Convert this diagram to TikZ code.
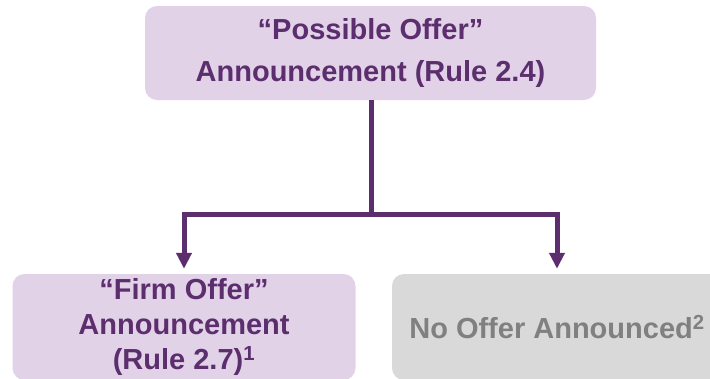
\documentclass[tikz,border=0pt]{standalone}
\usepackage{fontspec}
\setmainfont{Liberation Sans}
\usepackage{xcolor}
\usepackage{tikz}
\usetikzlibrary{arrows.meta,positioning}
\definecolor{plum}{HTML}{5C2E6E}
\definecolor{lilac}{HTML}{E1D2E8}
\definecolor{ash}{HTML}{D9D9D9}
\definecolor{slate}{HTML}{808080}
\tikzset{
  box/.style={rounded corners=12pt, inner sep=0pt, align=center, font=\bfseries\fontsize{29}{35}\selectfont},
  offer/.style={box, fill=lilac, text=plum},
  nooffer/.style={box, fill=ash, text=slate},
  link/.style={draw=plum, line width=5pt},
  arr/.style={link, -{Triangle[width=15pt,length=16pt]}, shorten >=5pt},
}
\begin{document}
\begin{tikzpicture}[x=1pt,y=-1pt]
\path[use as bounding box, clip] (0,0) rectangle (710,378);
\node[offer, minimum width=451pt, minimum height=94pt, font=\bfseries\fontsize{29}{42}\selectfont] (possible) at (370.5,53) {``Possible Offer''\\Announcement (Rule 2.4)};
\node[offer, minimum width=343pt, minimum height=106pt] (firm) at (184,327) {``Firm Offer''\\Announcement\\(Rule 2.7)\textsuperscript{1}};
\node[nooffer, minimum width=330pt, minimum height=106pt] (none) at (557,327) {No Offer Announced\textsuperscript{2}};
\coordinate (split) at (371,214);
\draw[link] (possible.south -| split) -- (split);
\draw[arr] (split) -| (firm.north);
\draw[arr] (split) -| (none.north);
\end{tikzpicture}
\end{document}
